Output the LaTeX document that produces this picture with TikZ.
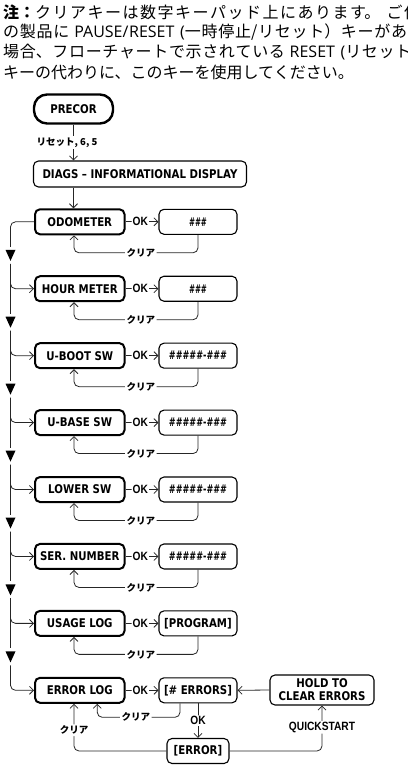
\documentclass[tikz,border=0pt]{standalone}
\usepackage{fontspec}
\usetikzlibrary{arrows.meta,calc}
\setmainfont{Noto Sans CJK JP}
\newfontfamily\jp{Noto Sans CJK JP}
\newfontfamily\lat{Open Sans}
\newfontfamily\boxf{DejaVu Sans Bold}[FakeStretch=0.85]
\newfontfamily\hel{Liberation Sans Bold}[FakeStretch=0.85]
\newcommand{\hsh}[1]{\scalebox{0.7}[1]{#1}}
\newcommand{\hshw}[1]{\scalebox{0.8}[1]{#1}}
\newcommand{\jline}[2]{\parbox{#1}{\parfillskip=0pt\parindent=0pt\XeTeXlinebreaklocale "ja"\XeTeXlinebreakskip=0pt plus 1pt\relax #2}}
\begin{document}
\begin{tikzpicture}[x=1pt,y=-1pt,
  bf/.style={font=\boxf\fontsize{12}{13}\selectfont},
  lbox/.style={draw, line width=2pt, rounded corners=5pt, minimum width=89.5pt, minimum height=25pt, inner sep=0pt, bf},
  rbox/.style={draw, line width=1.1pt, rounded corners=5pt, minimum width=78pt, minimum height=25pt, inner sep=0pt, bf},
  conn/.style={line width=0.8pt, draw=black!85, rounded corners=5pt},
  arr/.style={conn, -{Straight Barb[length=4pt,width=8pt,line width=0.8pt]}},
  lab/.style={fill=white, inner sep=1.5pt, font=\jp\bfseries\fontsize{9.5}{9.5}\selectfont},
  oklab/.style={fill=white, inner sep=1pt, font=\hel\fontsize{12}{12}\selectfont},
  tri/.style={minimum width=10pt, minimum height=11pt, inner sep=0pt, outer sep=0pt},
  note/.style={anchor=west, inner sep=0pt, font=\fontsize{16}{20}\selectfont}
]
\useasboundingbox (0,0) rectangle (407,781);

% note text
\node[note] (n1) at (3,12.5) {\jline{417pt}{{\bfseries 注：}クリアキーは数字キーパッド上にあります。 ご使}};
\node[note] (n2) at (3,32.5) {\jline{404pt}{の製品に {\lat PAUSE/RESET (}一時停止/リセット）キーがあ}};
\node[note] (n3) at (3,52.5) {\jline{408pt}{場合、フローチャートで示されている {\lat RESET (}リセット}};
\node[note] (n4) at (3,72.5) {キーの代わりに、このキーを使用してください。};

% top
\node[draw, line width=2.4pt, rounded corners=13pt, minimum width=79pt, minimum height=29pt, inner sep=0pt, bf] (precor) at (73.5,109) {PRECOR};
\node[rbox, minimum width=213pt, minimum height=26pt] (diags) at (140,174) {DIAGS – INFORMATIONAL DISPLAY};

% rows
\foreach \i/\lt/\rt in {1/ODOMETER/\hsh{\#\#\#},
                        2/HOUR METER/\hsh{\#\#\#},
                        3/U-BOOT SW/\hshw{\#\#\#\#\#-\#\#\#},
                        4/U-BASE SW/\hshw{\#\#\#\#\#-\#\#\#},
                        5/LOWER SW/\hshw{\#\#\#\#\#-\#\#\#},
                        6/SER. NUMBER/\hshw{\#\#\#\#\#-\#\#\#},
                        7/USAGE LOG/[PROGRAM],
                        8/ERROR LOG/[\# ERRORS]} {
  \pgfmathsetmacro{\yy}{221.8+66.93*(\i-1)}
  \node[lbox] (l\i) at (79.75,\yy) {\lt};
  \node[rbox] (r\i) at (198,\yy) {\rt};
  \draw[arr] (l\i.east) -- node[oklab, pos=0.45]{OK} (r\i.west);
}

% clear loops rows 1-7
\foreach \i in {1,...,7} {
  \draw[arr] (r\i.south) |- node[lab,pos=0.73]{クリア} ($(l\i.south)+(-5.75,17.5)$) -- ([xshift=-5.75pt]l\i.south);
}

% triangles and left chain
\foreach \i in {1,...,7} {
  \pgfmathsetmacro{\ty}{221.8+66.93*(\i-1)+33.5}
  \node[tri] (t\i) at (10.5,\ty) {};
  \fill (t\i.north west) -- (t\i.north east) -- (t\i.south) -- cycle;
}
\draw[conn, shorten >=3pt] (l1.west) -| (t1.north);
\foreach \i [evaluate=\i as \j using int(\i+1)] in {1,...,7} {
  \draw[arr, shorten <=3pt] (t\i.south) |- (l\j.west);
}
\foreach \i [evaluate=\i as \j using int(\i+1)] in {1,...,6} {
  \draw[conn, shorten <=3pt, shorten >=3pt] (t\i.south) -- (t\j.north);
}

% top connectors
\draw[arr] (precor.south) -- node[lab, xshift=-6.5pt]{リセット, 6, 5} (precor.south |- diags.north);
\draw[arr] (precor.south |- diags.south) -- (precor.south |- l1.north);

% error section
\node[rbox, minimum width=104pt, minimum height=30pt, align=center] (hold) at (322,690) {HOLD TO\\CLEAR ERRORS};
\node[rbox, minimum width=62pt] (err) at (198,751) {[ERROR]};
\draw[arr] (hold.west) -- (r8.east);
\draw[arr] (r8.south) -- node[oklab]{OK} (err.north);
\draw[arr] ([xshift=-18pt]r8.south) |- node[lab,pos=0.767]{クリア} ($(l8.south)+(17.5,13.5)$) -- ([xshift=17.5pt]l8.south);
\draw[arr] (err.west) -| node[lab,pos=0.72]{クリア} ([xshift=-5.75pt]l8.south);
\draw[arr] (err.east) -| node[oklab,pos=0.76]{QUICKSTART} (hold.south);
\end{tikzpicture}
\end{document}
